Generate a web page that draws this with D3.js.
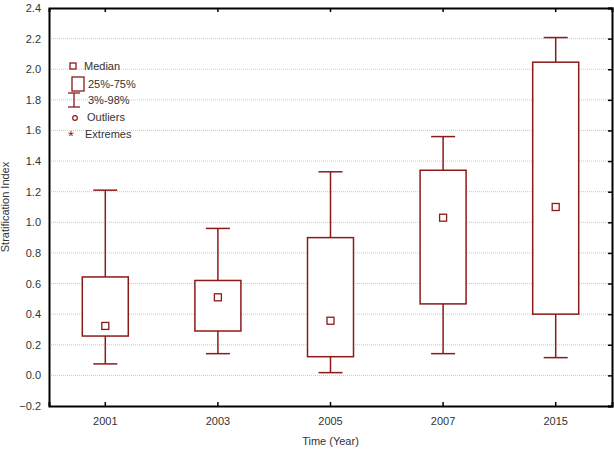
<!DOCTYPE html>
<meta charset="utf-8">
<style>
  body { margin: 0; background: #fff; font-family: "Liberation Sans", Arial, sans-serif; }
</style>
<div id="container"></div>
<script src="https://cdn.jsdelivr.net/npm/d3@7"></script>
<script>
  // DATA
  const years = ["2001", "2003", "2005", "2007", "2015"];
  const whiskerLow = [0.075, 0.142, 0.018, 0.142, 0.116];
  const q1 = [0.257, 0.29, 0.122, 0.467, 0.40];
  const medians = [0.323, 0.51, 0.357, 1.03, 1.10];
  const q3 = [0.643, 0.62, 0.90, 1.34, 2.046];
  const whiskerHigh = [1.21, 0.96, 1.33, 1.56, 2.207];
  const yTicks = [-0.2, 0.0, 0.2, 0.4, 0.6, 0.8, 1.0, 1.2, 1.4, 1.6, 1.8, 2.0, 2.2, 2.4];
  const legendItems = ["Median", "25%-75%", "3%-98%", "Outliers", "Extremes"];

  const W = 614, H = 449;
  const margin = { top: 8, right: 2, bottom: 43, left: 49 };
  const width = W - margin.left - margin.right;
  const height = H - margin.top - margin.bottom;
  const red = "#8b1a1a";

  const svg = d3.select("#container").append("svg")
    .attr("width", W).attr("height", H);
  const g = svg.append("g")
    .attr("transform", "translate(" + margin.left + "," + margin.top + ")");

  const x = d3.scaleBand().domain(years).range([0, width]).padding(0);
  const y = d3.scaleLinear().domain([-0.2, 2.4]).range([height, 0]);

  // gridlines
  g.selectAll(".grid").data(yTicks.slice(1, -1)).enter().append("line")
    .attr("x1", 0).attr("x2", width)
    .attr("y1", d => y(d)).attr("y2", d => y(d))
    .attr("stroke", "#c8c8c8").attr("stroke-width", 1)
    .attr("stroke-dasharray", "1,1");

  // axes
  const fmt = d3.format(".1f");
  const axLeft = g.append("g").call(d3.axisLeft(y).tickValues(yTicks).tickFormat(fmt).tickSize(0).tickPadding(8));
  const axBottom = g.append("g").attr("transform", "translate(0," + height + ")")
    .call(d3.axisBottom(x).tickSize(-4).tickPadding(11));
  const axTop = g.append("g").call(d3.axisTop(x).tickSize(-4).tickFormat(""));
  const axRight = g.append("g").attr("transform", "translate(" + width + ",0)")
    .call(d3.axisRight(y).tickValues(yTicks).tickSize(-4).tickFormat(""));
  [axLeft, axBottom, axTop, axRight].forEach(a => {
    a.select(".domain").attr("stroke", "#000").attr("stroke-width", 2);
    a.selectAll(".tick line").attr("stroke", "#000").attr("stroke-width", 1.5);
    a.selectAll("text").attr("fill", "#333").style("font-size", "11px")
      .style("font-family", "Liberation Sans, Arial, sans-serif");
  });

  // boxes
  const boxW = 46, capW = 24, medS = 7;
  const boxes = g.selectAll(".box").data(years).enter().append("g")
    .attr("transform", d => "translate(" + (x(d) + x.bandwidth() / 2) + ",0)");

  boxes.append("line")
    .attr("x1", 0).attr("x2", 0)
    .attr("y1", (d, i) => y(whiskerHigh[i])).attr("y2", (d, i) => y(q3[i]))
    .attr("stroke", red).attr("stroke-width", 1.5);
  boxes.append("line")
    .attr("x1", 0).attr("x2", 0)
    .attr("y1", (d, i) => y(q1[i])).attr("y2", (d, i) => y(whiskerLow[i]))
    .attr("stroke", red).attr("stroke-width", 1.5);
  boxes.append("line")
    .attr("x1", -capW / 2).attr("x2", capW / 2)
    .attr("y1", (d, i) => y(whiskerHigh[i])).attr("y2", (d, i) => y(whiskerHigh[i]))
    .attr("stroke", red).attr("stroke-width", 1.5);
  boxes.append("line")
    .attr("x1", -capW / 2).attr("x2", capW / 2)
    .attr("y1", (d, i) => y(whiskerLow[i])).attr("y2", (d, i) => y(whiskerLow[i]))
    .attr("stroke", red).attr("stroke-width", 1.5);
  boxes.append("rect")
    .attr("x", -boxW / 2).attr("width", boxW)
    .attr("y", (d, i) => y(q3[i]))
    .attr("height", (d, i) => y(q1[i]) - y(q3[i]))
    .attr("fill", "#fff").attr("stroke", red).attr("stroke-width", 1.5);
  boxes.append("rect")
    .attr("x", -medS / 2).attr("width", medS)
    .attr("y", (d, i) => y(medians[i]) - medS / 2).attr("height", medS)
    .attr("fill", "#fff").attr("stroke", red).attr("stroke-width", 1.3);

  // legend
  const leg = svg.append("g").attr("transform", "translate(60,0)");
  const legY = [66, 84, 100, 117, 134];
  const legX = [24, 28, 28, 27, 25];
  leg.selectAll("text").data(legendItems).enter().append("text")
    .attr("x", (d, i) => legX[i])
    .attr("y", (d, i) => legY[i] + 4)
    .text(d => d)
    .attr("fill", "#333").style("font-size", "11px");
  leg.append("rect").attr("x", 10).attr("y", legY[0] - 3).attr("width", 6).attr("height", 6)
    .attr("fill", "#fff").attr("stroke", red).attr("stroke-width", 1.3);
  leg.append("rect").attr("x", 12).attr("y", 77).attr("width", 12).attr("height", 14)
    .attr("fill", "#fff").attr("stroke", red).attr("stroke-width", 1.3);
  leg.append("line").attr("x1", 14).attr("x2", 14).attr("y1", 93).attr("y2", 107)
    .attr("stroke", red).attr("stroke-width", 1.3);
  leg.append("line").attr("x1", 8).attr("x2", 20).attr("y1", 93).attr("y2", 93)
    .attr("stroke", red).attr("stroke-width", 1.3);
  leg.append("line").attr("x1", 8).attr("x2", 20).attr("y1", 107).attr("y2", 107)
    .attr("stroke", red).attr("stroke-width", 1.3);
  leg.append("circle").attr("cx", 15).attr("cy", 118).attr("r", 2.3)
    .attr("fill", "none").attr("stroke", red).attr("stroke-width", 1.2);
  leg.append("text").attr("x", 11).attr("y", 141).attr("text-anchor", "middle")
    .text("*").attr("fill", red).style("font-size", "15px");

  // axis titles
  svg.append("text")
    .attr("transform", "translate(9," + (margin.top + height / 2) + ") rotate(-90)")
    .attr("text-anchor", "middle")
    .text("Stratification Index")
    .attr("fill", "#333").style("font-size", "11px");
  svg.append("text")
    .attr("x", margin.left + width / 2).attr("y", 445)
    .attr("text-anchor", "middle")
    .text("Time (Year)")
    .attr("fill", "#333").style("font-size", "11px");
</script>
